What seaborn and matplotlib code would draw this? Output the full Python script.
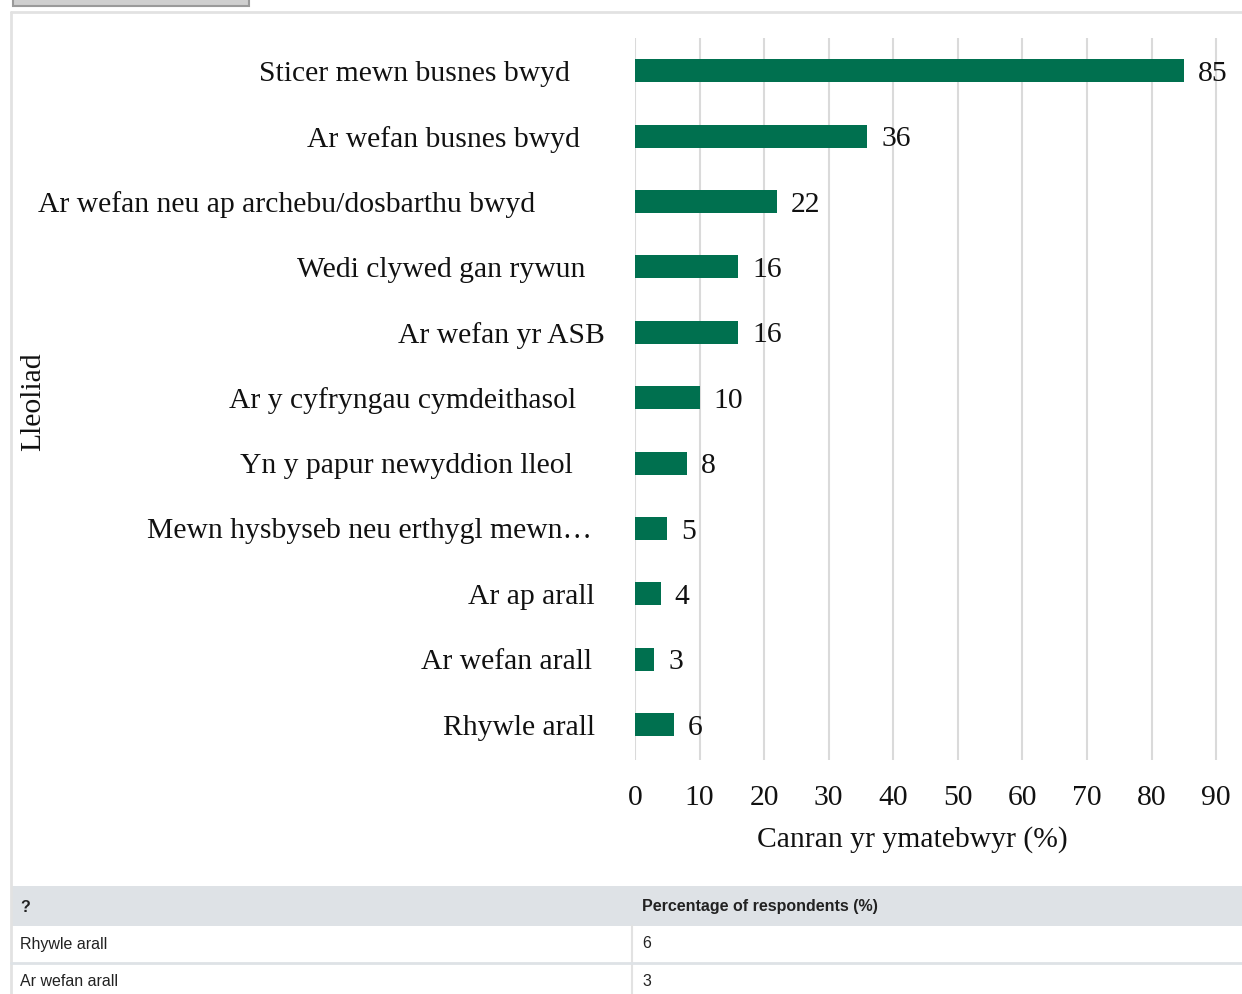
import matplotlib
matplotlib.use("Agg")
import matplotlib.pyplot as plt
import matplotlib.transforms as mtransforms
from matplotlib.patches import Rectangle
from matplotlib.lines import Line2D
import pandas as pd
import seaborn as sns

# Data
locations = [
    "Sticer mewn busnes bwyd",
    "Ar wefan busnes bwyd",
    "Ar wefan neu ap archebu/dosbarthu bwyd",
    "Wedi clywed gan rywun",
    "Ar wefan yr ASB",
    "Ar y cyfryngau cymdeithasol",
    "Yn y papur newyddion lleol",
    "Mewn hysbyseb neu erthygl mewn…",
    "Ar ap arall",
    "Ar wefan arall",
    "Rhywle arall",
]
percentages = [85, 36, 22, 16, 16, 10, 8, 5, 4, 3, 6]
x_ticks = [0, 10, 20, 30, 40, 50, 60, 70, 80, 90]

x_label = "Canran yr ymatebwyr (%)"
y_label = "Lleoliad"
table_headers = ["?", "Percentage of respondents (%)"]

# gap (px) between the axis and the end of each category label, as in the reference
label_gaps = [65, 55, 100, 50, 30, 59, 62, 43, 40, 43, 40]

BAR_COLOR = "#00704f"
GRID_COLOR = "#dadada"
BORDER_COLOR = "#e2e2e2"
HEADER_BG = "#dee2e6"
FS = 21.3

W, H = 1242, 994

sns.set_theme(style="white")
plt.rcParams["font.family"] = ["Liberation Serif", "DejaVu Serif"]

df = pd.DataFrame({"location": locations, "pct": percentages})

fig = plt.figure(figsize=(W / 100, H / 100), dpi=100)
fig.patch.set_facecolor("white")


def fx(px):
    return px / W


def fy(py):
    return 1 - py / H


ax = fig.add_axes([fx(635), fy(760), fx(1242) - fx(635), fy(38) - fy(760)])

sns.barplot(
    data=df, x="pct", y="location", orient="h", color=BAR_COLOR,
    saturation=1, width=0.35, linewidth=0, ax=ax,
)

ax.set_xlim(0, 94)
ax.set_ylim(len(locations) - 0.46, -0.5)
ax.set_xticks(x_ticks)
ax.xaxis.grid(True, color=GRID_COLOR, linewidth=1.5)
ax.yaxis.grid(False)
ax.set_axisbelow(True)
for s in ax.spines.values():
    s.set_visible(False)

ax.tick_params(axis="x", length=0, pad=18, labelsize=FS, colors="#111111")
ax.tick_params(axis="y", length=0, pad=0, labelsize=FS, colors="#111111")

for lbl, gap in zip(ax.get_yticklabels(), label_gaps):
    lbl.set_transform(lbl.get_transform() + mtransforms.ScaledTranslation(-gap / 100, 0, fig.dpi_scale_trans))

ax.set_xlabel(x_label, fontsize=FS, color="#111111")
ax.xaxis.set_label_coords((912 - 635) / (1242 - 635), -0.092)
ax.set_ylabel("")
fig.text(fx(33), fy(402), y_label, rotation=90, ha="center", va="center", fontsize=FS, color="#111111")

for cont in ax.containers:
    texts = ax.bar_label(cont, labels=[str(v) for v in percentages], padding=10, fontsize=FS, color="#111111")
    for t in texts:
        # nudge a little lower so the digits sit on the bar's centre line
        t.xyann = (10, -2.2)

# page decorations: panel border and the button cut off at the top
fig.add_artist(Rectangle((fx(13), fy(6)), fx(249) - fx(13), fy(0) - fy(6) + 0.01,
                         transform=fig.transFigure, facecolor="#cfcfcf", edgecolor="#9a9a9a", linewidth=1.5))
fig.add_artist(Line2D([fx(11), fx(11)], [fy(12), 0], transform=fig.transFigure, color=BORDER_COLOR, linewidth=2))
fig.add_artist(Line2D([fx(11), 1], [fy(12), fy(12)], transform=fig.transFigure, color=BORDER_COLOR, linewidth=2))

# table underneath the chart (rows in reverse order, as on the page)
fig.add_artist(Rectangle((fx(11), fy(926)), 1 - fx(11), fy(886) - fy(926),
                         transform=fig.transFigure, facecolor=HEADER_BG, edgecolor="none"))
fig.add_artist(Line2D([fx(632), fx(632)], [fy(926), 0], transform=fig.transFigure, color=BORDER_COLOR, linewidth=1.5))
fig.add_artist(Line2D([fx(11), 1], [fy(963), fy(963)], transform=fig.transFigure, color=HEADER_BG, linewidth=2))

table_font = ["Liberation Sans", "DejaVu Sans"]
fig.text(fx(20), fy(907), table_headers[0], ha="left", va="center", fontsize=11.5,
         fontweight="bold", family=table_font, color="#222222")
fig.text(fx(642), fy(907), table_headers[1], ha="left", va="center", fontsize=11.5,
         fontweight="bold", family=table_font, color="#222222")
rows = list(zip(locations[::-1], percentages[::-1]))[:2]
for (name, val), ypx in zip(rows, [944, 982]):
    fig.text(fx(20), fy(ypx), name, ha="left", va="center", fontsize=11.5, family=table_font, color="#222222")
    fig.text(fx(642), fy(ypx), str(val), ha="left", va="center", fontsize=11.5, family=table_font, color="#222222")

fig.savefig("out.png", dpi=100)
